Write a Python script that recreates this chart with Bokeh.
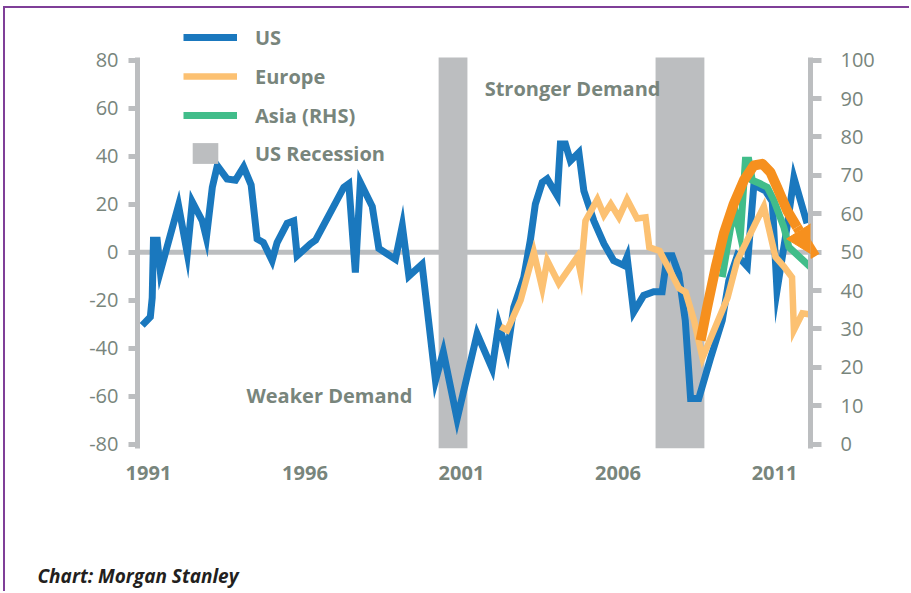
from bokeh.plotting import figure
from bokeh.models import (Range1d, LinearAxis, FixedTicker, Span, Label, Legend,
                          LegendItem, Arrow, NormalHead, Title, PrintfTickFormatter)
from bokeh.embed import file_html
from bokeh.resources import INLINE

# ---------------- data ----------------
us_year = [1990.80, 1991.06, 1991.12, 1991.16, 1991.28, 1991.38, 1991.96, 1992.24, 1992.40,
           1992.72, 1992.85, 1993.04, 1993.20, 1993.51, 1993.78, 1994.04, 1994.28, 1994.47,
           1994.67, 1994.95, 1995.11, 1995.43, 1995.64, 1995.75, 1996.18, 1996.34, 1997.24,
           1997.40, 1997.61, 1997.77, 1998.15, 1998.36, 1998.89, 1999.11, 1999.32, 1999.74,
           2000.17, 2000.42, 2000.86, 2001.50, 2001.98, 2002.19, 2002.46, 2002.67, 2002.99,
           2003.20, 2003.36, 2003.58, 2003.74, 2004.06, 2004.16, 2004.32, 2004.48, 2004.75,
           2004.91, 2005.23, 2005.55, 2005.86, 2006.18, 2006.29, 2006.50, 2006.82, 2007.14,
           2007.41, 2007.57, 2007.73, 2007.94, 2008.15, 2008.32, 2008.58, 2008.96, 2009.33,
           2009.54, 2009.81, 2010.13, 2010.34, 2010.71, 2010.93, 2011.08, 2011.40, 2011.62,
           2012.04]
us_val = [-30.5, -27, -19, 5, 5, -8, 19.5, -0.5, 21, 13, 6, 27, 36, 30.5, 30, 35.5, 28, 5.5,
          4, -3.5, 4, 12, 13, -1.5, 3.5, 5, 27, 28.5, -8.5, 29, 19, 1.5, -3, 11, -10, -5,
          -53.5, -41.5, -69.5, -34, -48.5, -30, -42, -23, -10.5, 5, 20, 29, 30.5, 23.5, 45, 45,
          38, 41.5, 25.5, 13, 3.5, -3.5, -5.5, -2, -25, -18, -16.5, -16.5, -1.5, -1.5, -9,
          -28.5, -61, -61, -44, -28.5, -12, -1.5, -6, 28, 25.5, 21, -16, 10.5, 31, 12]

eu_year = [2002.25, 2002.46, 2002.89, 2003.15, 2003.31, 2003.58, 2003.74, 2004.11, 2004.70,
           2004.81, 2004.96, 2005.34, 2005.55, 2005.77, 2006.03, 2006.29, 2006.61, 2006.88,
           2007.00, 2007.33, 2007.95, 2008.16, 2008.43, 2008.70, 2009.50, 2009.81, 2010.13,
           2010.39, 2010.66, 2011.03, 2011.30, 2011.56, 2011.62, 2011.89, 2012.15]
eu_val = [-31, -32.5, -20, -7.5, 0, -15, -3.5, -13, -2, -9, 13, 22, 15.5, 20, 14.5, 22, 14,
          14.5, 2, 0.5, -15, -16.7, -28.5, -44, -19, -3.5, 5, 12, 19, -2, -6, -10.5, -32.5,
          -25.5, -26]

asia_year = [2009.33, 2009.60, 2009.76, 2009.91, 2010.07, 2010.18, 2010.29, 2010.55, 2010.77,
             2010.98, 2011.30, 2011.46, 2012.15]
asia_val = [43.5, 56.5, 60, 54.3, 73.9, 73.9, 68.7, 67.8, 66.9, 63.5, 56.5, 51.3, 46.1]

trend_year = [2008.64, 2008.85, 2009.12, 2009.38, 2009.70, 2010.02, 2010.34, 2010.61, 2010.87,
              2011.08, 2011.40, 2011.72]
trend_val = [-36.8, -22.9, -6.3, 7.7, 20.2, 29.9, 36.1, 36.8, 33.3, 27.1, 17.4, 10.4]
trend_tip = (2012.30, -1.8)

rec_start = [2000.27, 2007.20]
rec_end = [2001.19, 2008.76]

x_ticks = [1991, 1996, 2001, 2006, 2011]
lhs_ticks = [-80, -60, -40, -20, 0, 20, 40, 60, 80]
rhs_ticks = [0, 10, 20, 30, 40, 50, 60, 70, 80, 90, 100]

# ---------------- style ----------------
BLUE = "#1a78be"
EURO = "#fcc172"
ASIA = "#41bd8a"
TREND = "#f6901e"
GREY = "#bcbec0"
TXT = "#78857c"
PURPLE = "#7f3f98"
FONT = "Open Sans"

X0, X1 = 1990.65, 2012.15
Y0, YAX, YTOP = -81.8, 81.1, 96.5     # bottom, top of axes/bars, top of frame
rhs = lambda v: 50 + 0.625 * v

p = figure(width=906, height=585, output_backend="svg", toolbar_location=None,
           x_range=Range1d(X0, X1), y_range=Range1d(Y0, YTOP),
           min_border_left=132, min_border_right=101, min_border_top=12,
           min_border_bottom=145, title=None, y_axis_location=None, x_axis_location=None)
p.styles = {"margin-left": "3px", "margin-top": "6px",
            "border-top": f"2px solid {PURPLE}", "border-left": f"2px solid {PURPLE}"}
p.outline_line_color = None
p.grid.visible = False
p.background_fill_color = "white"
p.border_fill_color = "white"

# axes
p.extra_y_ranges = {"rhs": Range1d(rhs(Y0), rhs(YTOP))}

left = LinearAxis(ticker=FixedTicker(ticks=lhs_ticks), bounds=(Y0, YAX),
                  formatter=PrintfTickFormatter(format="%d"))
right = LinearAxis(ticker=FixedTicker(ticks=rhs_ticks), y_range_name="rhs",
                   bounds=(rhs(Y0), rhs(YAX)), formatter=PrintfTickFormatter(format="%d"))
bottom = LinearAxis(ticker=FixedTicker(ticks=x_ticks), formatter=PrintfTickFormatter(format="%d"))
for ax in (left, right):
    ax.axis_line_color = GREY
    ax.axis_line_width = 5
    ax.major_tick_line_color = GREY
    ax.major_tick_line_width = 5
    ax.major_tick_in = 0
    ax.minor_tick_line_color = None
    ax.major_label_text_font = FONT
    ax.major_label_text_font_size = "20px"
    ax.major_label_text_color = TXT
left.major_tick_out = 9
left.major_label_standoff = 10
right.major_tick_out = 11
right.major_label_standoff = 19
bottom.axis_line_color = None
bottom.major_tick_line_color = None
bottom.minor_tick_line_color = None
bottom.major_label_standoff = 11
bottom.major_label_text_font = FONT
bottom.major_label_text_font_style = "bold"
bottom.major_label_text_font_size = "20px"
bottom.major_label_text_color = TXT
p.add_layout(left, "left")
p.add_layout(right, "right")
p.add_layout(bottom, "below")

# spacer + caption below the x axis
p.add_layout(Title(text=" ", text_font_size="2px", standoff=74), "below")
p.add_layout(Title(text="Chart: Morgan Stanley", align="left", offset=-100, standoff=0,
                   text_font=FONT, text_font_style="bold italic", text_font_size="19px",
                   text_color="#231f20"), "below")

# recession bars
rec = p.quad(left=rec_start, right=rec_end, bottom=Y0, top=YAX,
             fill_color=GREY, line_color=None)

# zero line
p.add_layout(Span(location=0, dimension="width", line_color=GREY, line_width=5,
                  level="underlay"))

# series
us = p.line(us_year, us_val, line_color=BLUE, line_width=7, line_join="miter")
asia = p.line(asia_year, asia_val, line_color=ASIA, line_width=7, line_join="miter",
              y_range_name="rhs")
eu = p.line(eu_year, eu_val, line_color=EURO, line_width=6.5, line_join="miter")
p.line(trend_year, trend_val, line_color=TREND, line_width=10, line_join="round")
p.add_layout(Arrow(x_start=trend_year[-1], y_start=trend_val[-1],
                   x_end=trend_tip[0], y_end=trend_tip[1],
                   line_color=TREND, line_width=10,
                   end=NormalHead(size=30, fill_color=TREND, line_color=TREND, line_width=1)))

# legends
def mk_legend(items, gw, gh, standoff, loc):
    return Legend(items=items, location=loc, glyph_width=gw, glyph_height=gh,
                  label_height=30, spacing=9, padding=0, margin=0, label_standoff=standoff,
                  border_line_color=None, background_fill_alpha=0,
                  label_text_font=FONT, label_text_font_style="bold",
                  label_text_font_size="20px", label_text_color=TXT)

lg1 = mk_legend([LegendItem(label="US", renderers=[us]),
                 LegendItem(label="Europe", renderers=[eu]),
                 LegendItem(label="Asia (RHS)", renderers=[asia])], 54, 30, 18, (46, 318))
lg2 = mk_legend([LegendItem(label="US Recession", renderers=[rec])], 32, 26, 34, (52, 280))
p.add_layout(lg1, "center")
p.add_layout(lg2, "center")

# annotations
p.add_layout(Label(x=2001.74, y=68.2, text="Stronger Demand", text_font=FONT,
                   text_font_style="bold", text_font_size="20px", text_color=TXT,
                   text_baseline="middle"))
p.add_layout(Label(x=1994.13, y=-59.7, text="Weaker Demand", text_font=FONT,
                   text_font_style="bold", text_font_size="20px", text_color=TXT,
                   text_baseline="middle"))

open("out.html", "w").write(file_html(p, INLINE))
